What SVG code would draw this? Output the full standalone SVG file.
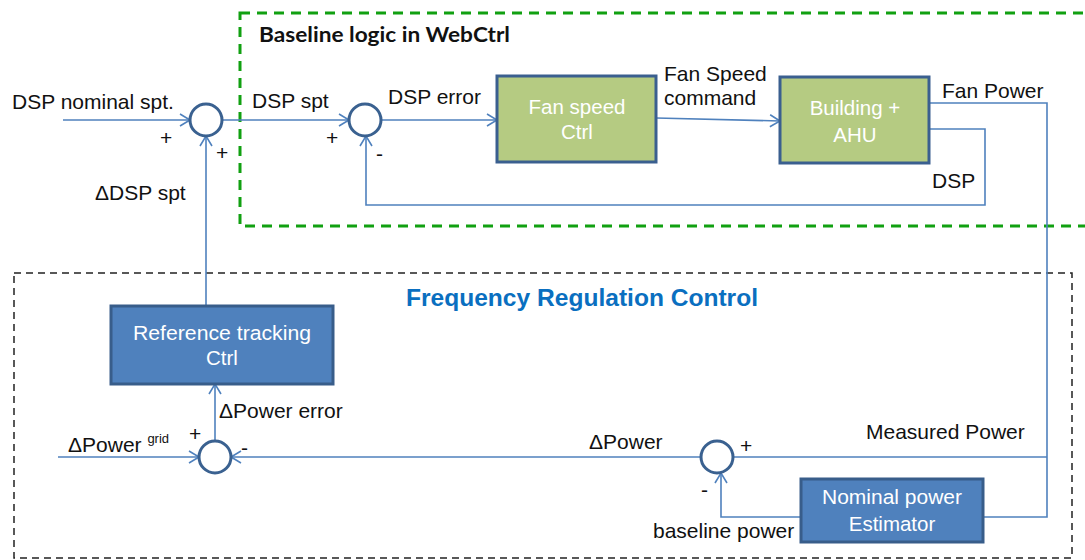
<svg xmlns="http://www.w3.org/2000/svg" width="1085" height="560" viewBox="0 0 1085 560">
<style>
text{font-family:"Liberation Sans",Arial,sans-serif;font-size:21px;fill:#111}
.w{fill:#fff;text-anchor:middle;font-size:20.5px}
.ln{fill:none;stroke:#4f81bd;stroke-width:1.6}
.sum{fill:#fff;stroke:#3a6190;stroke-width:3}
.green{fill:#b5cb82;stroke:#3a5f8f;stroke-width:3}
.blue{fill:#4f81bd;stroke:#385d8a;stroke-width:3}
</style>
<defs>
<marker id="ar" markerUnits="userSpaceOnUse" markerWidth="14" markerHeight="16" refX="11" refY="7" orient="auto" viewBox="0 0 14 14">
<path d="M1,1 L11,7 L1,13" fill="none" stroke="#4f81bd" stroke-width="1.6"/>
</marker>
</defs>
<rect id="baseline-region" x="240" y="13" width="870" height="213" fill="none" stroke="#11a011" stroke-width="3" stroke-dasharray="10 7"/>
<rect id="frc-region" x="14" y="273" width="1058" height="285" fill="none" stroke="#222" stroke-width="1.5" stroke-dasharray="7 5"/>
<text x="259" y="42" style="font-family:Lato,'Open Sans',sans-serif;font-weight:bold;font-size:20px" textLength="251" lengthAdjust="spacingAndGlyphs">Baseline logic in WebCtrl</text>
<text x="406" y="306" style="font-weight:bold;font-size:23px;fill:#0a6fc0" textLength="352" lengthAdjust="spacingAndGlyphs">Frequency Regulation Control</text>
<g id="connectors">
<path class="ln" d="M63,120 H190" marker-end="url(#ar)"/>
<path class="ln" d="M222,120 H349" marker-end="url(#ar)"/>
<path class="ln" d="M381,120 H497" marker-end="url(#ar)"/>
<path class="ln" d="M656,118 L780,121" marker-end="url(#ar)"/>
<path class="ln" d="M929,129 H985 V205 H366 V136" marker-end="url(#ar)"/>
<path class="ln" d="M922,103 H1047 V517 H983"/>
<path class="ln" d="M1047,457 H734"/>
<path class="ln" d="M801,517 H721 V473" marker-end="url(#ar)"/>
<path class="ln" d="M701,457 H231" marker-end="url(#ar)"/>
<path class="ln" d="M58,457 H199" marker-end="url(#ar)"/>
<path class="ln" d="M215,441 V384" marker-end="url(#ar)"/>
<path class="ln" d="M206,306 V136" marker-end="url(#ar)"/>
</g>
<g id="sum1"><circle class="sum" cx="206" cy="120" r="16"/></g>
<g id="sum2"><circle class="sum" cx="365" cy="120" r="16"/></g>
<g id="sum3"><circle class="sum" cx="215" cy="457" r="16"/></g>
<g id="sum4"><circle class="sum" cx="717" cy="457" r="16"/></g>
<g id="fan-speed-ctrl">
<rect class="green" x="497" y="76" width="159" height="86"/>
<text class="w" x="577" y="114">Fan speed</text>
<text class="w" x="577" y="139">Ctrl</text>
</g>
<g id="building-ahu">
<rect class="green" x="780" y="77" width="149" height="86"/>
<text class="w" x="855" y="115">Building +</text>
<text class="w" x="855" y="142">AHU</text>
</g>
<g id="ref-tracking-ctrl">
<rect class="blue" x="111" y="306" width="222" height="78"/>
<text class="w" x="222" y="340" textLength="178" lengthAdjust="spacingAndGlyphs">Reference tracking</text>
<text class="w" x="222" y="365">Ctrl</text>
</g>
<g id="nominal-power-estimator">
<rect class="blue" x="801" y="479" width="182" height="63"/>
<text class="w" x="892" y="504" textLength="140" lengthAdjust="spacingAndGlyphs">Nominal power</text>
<text class="w" x="892" y="531">Estimator</text>
</g>
<g id="labels">
<text x="12" y="109">DSP nominal spt.</text>
<text x="160" y="145">+</text>
<text x="216" y="160">+</text>
<text x="252" y="108">DSP spt</text>
<text x="326" y="145">+</text>
<text x="376" y="161">-</text>
<text x="388" y="104">DSP error</text>
<text x="664" y="81">Fan Speed</text>
<text x="664" y="105">command</text>
<text x="942" y="98">Fan Power</text>
<text x="932" y="188">DSP</text>
<text x="95" y="200">ΔDSP spt</text>
<text x="219" y="418">ΔPower error</text>
<text x="68" y="452">ΔPower <tspan style="font-size:13px" dy="-9">grid</tspan></text>
<text x="189" y="441">+</text>
<text x="241" y="455">-</text>
<text x="589" y="449">ΔPower</text>
<text x="740" y="453">+</text>
<text x="701" y="497">-</text>
<text x="866" y="439">Measured Power</text>
<text x="653" y="538">baseline power</text>
</g>
</svg>
